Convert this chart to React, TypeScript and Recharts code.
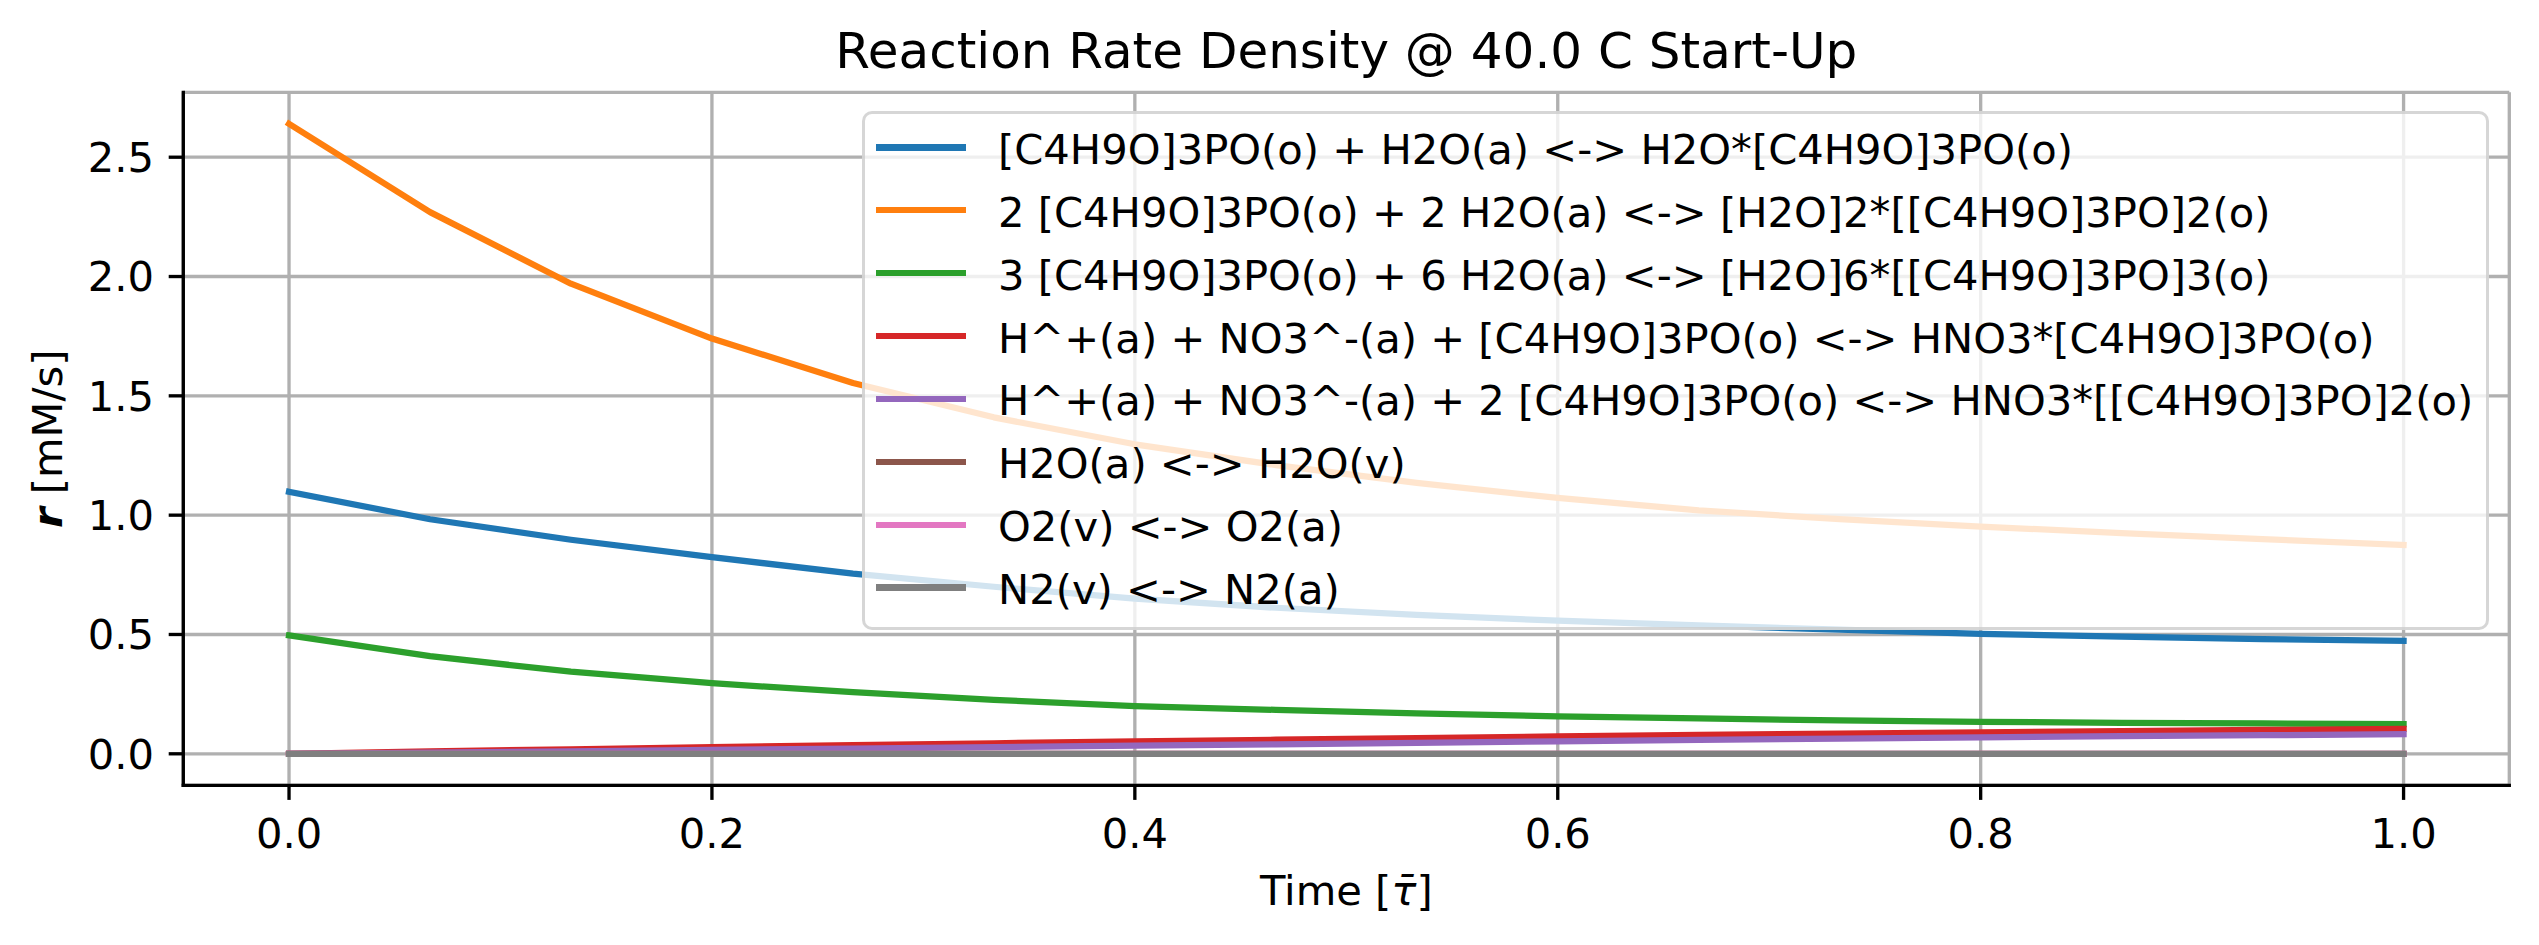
import React from 'react';
import { LineChart, Line, XAxis, YAxis, CartesianGrid, Legend } from 'recharts';

// ---- data ----
const time = [0, 0.0667, 0.1333, 0.2, 0.2667, 0.3333, 0.4, 0.4667, 0.5333, 0.6, 0.6667, 0.7333, 0.8, 0.8667, 0.9333, 1.0];

const seriesNames = [
  '[C4H9O]3PO(o) + H2O(a) <-> H2O*[C4H9O]3PO(o)',
  '2 [C4H9O]3PO(o) + 2 H2O(a) <-> [H2O]2*[[C4H9O]3PO]2(o)',
  '3 [C4H9O]3PO(o) + 6 H2O(a) <-> [H2O]6*[[C4H9O]3PO]3(o)',
  'H^+(a) + NO3^-(a) + [C4H9O]3PO(o) <-> HNO3*[C4H9O]3PO(o)',
  'H^+(a) + NO3^-(a) + 2 [C4H9O]3PO(o) <-> HNO3*[[C4H9O]3PO]2(o)',
  'H2O(a) <-> H2O(v)',
  'O2(v) <-> O2(a)',
  'N2(v) <-> N2(a)',
];

const seriesColors = ['#1f77b4', '#ff7f0e', '#2ca02c', '#d62728', '#9467bd', '#8c564b', '#e377c2', '#7f7f7f'];

const rWater1 = [1.098, 0.983, 0.897, 0.824, 0.755, 0.700, 0.650, 0.612, 0.582, 0.558, 0.538, 0.520, 0.503, 0.491, 0.481, 0.473];
const rWater2 = [2.640, 2.270, 1.970, 1.740, 1.554, 1.410, 1.297, 1.210, 1.135, 1.072, 1.020, 0.983, 0.952, 0.925, 0.900, 0.875];
const rWater3 = [0.496, 0.409, 0.344, 0.296, 0.258, 0.226, 0.200, 0.184, 0.169, 0.157, 0.148, 0.140, 0.134, 0.130, 0.127, 0.124];
const rNitric1 = [0.000, 0.010, 0.019, 0.028, 0.036, 0.044, 0.052, 0.059, 0.066, 0.073, 0.079, 0.085, 0.090, 0.095, 0.100, 0.104];
const rNitric2 = [0.000, 0.005, 0.010, 0.016, 0.022, 0.028, 0.034, 0.040, 0.046, 0.052, 0.058, 0.064, 0.069, 0.074, 0.078, 0.082];
const rH2OEvap = [0, 0, 0, 0, 0, 0, 0, 0, 0, 0, 0, 0, 0, 0, 0, 0];
const rO2 = [0, 0, 0, 0, 0, 0, 0, 0, 0, 0, 0, 0, 0, 0, 0, 0];
const rN2 = [0, 0, 0, 0, 0, 0, 0, 0, 0, 0, 0, 0, 0, 0, 0, 0];

const seriesValues = [rWater1, rWater2, rWater3, rNitric1, rNitric2, rH2OEvap, rO2, rN2];

const xTicks = [0, 0.2, 0.4, 0.6, 0.8, 1.0];
const yTicks = [0, 0.5, 1.0, 1.5, 2.0, 2.5];
const xDomain = [-0.05, 1.05];
const yDomain = [-0.132, 2.772];

const titleText = 'Reaction Rate Density @ 40.0 C Start-Up';

const data = time.map((t, i) => {
  const row: Record<string, number> = { t };
  seriesValues.forEach((s, k) => {
    row['s' + k] = s[i];
  });
  return row;
});

// ---- style ----
const W = 2539;
const H = 945;
const FONT = '"DejaVu Sans", sans-serif';
const FS = 41.67;
const LW = 3.33;

const plotLeft = 183.3;
const plotTop = 92.3;
const plotRight = 2509.3;
const plotBottom = 785.3;

function LegendBox(props: any) {
  const payload = [...(props.payload || [])].sort(
    (a: any, b: any) => seriesNames.indexOf(a.value) - seriesNames.indexOf(b.value)
  );
  return (
    <div
      style={{
        boxSizing: 'border-box',
        width: 1627.3,
        height: 518.6,
        border: `${LW}px solid rgba(204,204,204,0.8)`,
        borderRadius: 10,
        background: 'rgba(255,255,255,0.8)',
        paddingTop: 1.65,
        fontFamily: FONT,
        fontSize: FS,
      }}
    >
      {payload.map((p: any, i: number) => (
        <div
          key={i}
          style={{ height: 62.9, display: 'flex', alignItems: 'center', lineHeight: '62.9px', whiteSpace: 'nowrap' }}
        >
          <div style={{ marginLeft: 11.8, width: 89.3, height: 6.25, background: p.color, flex: 'none' }} />
          <span style={{ marginLeft: 32.3, position: 'relative', top: 2.9, color: '#000' }}>{p.value}</span>
        </div>
      ))}
    </div>
  );
}

const tickStyle = { fill: '#000', fontSize: FS, fontFamily: FONT };
const axisLineStyle = { stroke: '#000', strokeWidth: LW, strokeLinecap: 'square' as const };
const tickLineStyle = { stroke: '#000', strokeWidth: LW };

export default function App() {
  const yAxisW = 120;
  const xAxisH = 100;
  return (
    <div style={{ position: 'absolute', left: 0, top: 0, width: W, height: H, background: '#fff' }}>
      <LineChart
        width={W}
        height={H}
        data={data}
        margin={{
          top: plotTop,
          right: W - plotRight,
          bottom: H - plotBottom - xAxisH,
          left: plotLeft - yAxisW,
        }}
      >
        <CartesianGrid stroke="#b0b0b0" strokeWidth={LW} />
        <XAxis
          dataKey="t"
          type="number"
          domain={xDomain}
          ticks={xTicks}
          allowDataOverflow
          height={xAxisH}
          tickFormatter={(v: number) => v.toFixed(1)}
          tick={tickStyle}
          tickSize={14.6}
          tickMargin={18.5}
          tickLine={tickLineStyle}
          axisLine={axisLineStyle}
          interval={0}
        />
        <XAxis
          xAxisId="top"
          orientation="top"
          dataKey="t"
          type="number"
          domain={xDomain}
          allowDataOverflow
          height={0}
          tick={false}
          tickLine={false}
          axisLine={axisLineStyle}
        />
        <YAxis
          type="number"
          domain={yDomain}
          ticks={yTicks}
          allowDataOverflow
          width={yAxisW}
          tickFormatter={(v: number) => v.toFixed(1)}
          tick={tickStyle}
          tickSize={14.6}
          tickMargin={14.6}
          tickLine={tickLineStyle}
          axisLine={axisLineStyle}
          interval={0}
        />
        <YAxis
          yAxisId="right"
          orientation="right"
          type="number"
          domain={yDomain}
          allowDataOverflow
          width={0}
          tick={false}
          tickLine={false}
          axisLine={axisLineStyle}
        />
        {seriesNames.map((name, k) => (
          <Line
            key={k}
            type="linear"
            dataKey={'s' + k}
            name={name}
            stroke={seriesColors[k]}
            strokeWidth={6.25}
            strokeLinecap="square"
            strokeLinejoin="round"
            dot={false}
            activeDot={false}
            isAnimationActive={false}
          />
        ))}
        <Legend
          layout="vertical"
          align="center"
          verticalAlign="middle"
          wrapperStyle={{ left: 861.6, top: 111.3, width: 1627.3, height: 518.6 }}
          content={LegendBox}
        />
      </LineChart>
      <svg
        width={W}
        height={H}
        style={{ position: 'absolute', left: 0, top: 0, pointerEvents: 'none' }}
      >
        <text
          x={(plotLeft + plotRight) / 2}
          y={68}
          textAnchor="middle"
          fontFamily={FONT}
          fontSize={50}
          fill="#000"
        >
          {titleText}
        </text>
        <text
          x={(plotLeft + plotRight) / 2}
          y={905}
          textAnchor="middle"
          fontFamily={FONT}
          fontSize={FS}
          fill="#000"
        >
          Time [<tspan fontStyle="italic">τ̄</tspan>]
        </text>
        <text
          x={62.5}
          y={(plotTop + plotBottom) / 2}
          transform={`rotate(-90, 62.5, ${(plotTop + plotBottom) / 2})`}
          textAnchor="middle"
          fontFamily={FONT}
          fontSize={FS}
          fill="#000"
        >
          <tspan fontWeight="bold" fontStyle="italic">r</tspan> [mM/s]
        </text>
      </svg>
    </div>
  );
}
